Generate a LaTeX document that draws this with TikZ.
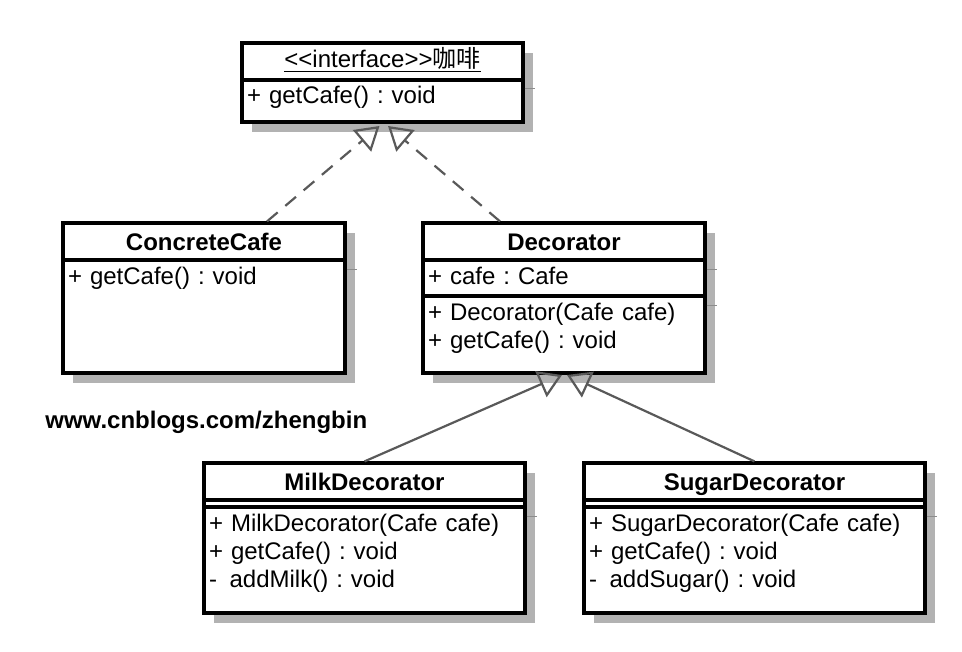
\documentclass[tikz,border=0pt]{standalone}
\usepackage{fontspec}
\setmainfont{Liberation Sans}
\newfontfamily\cjk{Noto Sans CJK SC}
\usepackage{tikz}
\usetikzlibrary{shapes,arrows.meta,shadows}
\usetikzlibrary{positioning}
\newcommand{\umlfont}{\fontsize{12pt}{14pt}\selectfont\frenchspacing}
\tikzstyle{cls} = [rectangle, draw, line width=1.6pt, fill=white, outer sep=0pt, font=\umlfont, drop shadow={shadow xshift=5pt, shadow yshift=-5pt, fill=black!30, opacity=1}]
\tikzstyle{head} = [cls, font=\umlfont\bfseries, inner sep=0pt, minimum height=18.5pt, text height=8.6pt, text depth=0pt]
\tikzstyle{part} = [cls, align=left, inner xsep=2.5pt, inner ysep=2pt, text height=10pt]
\tikzstyle{gap} = [cls, inner sep=0pt, minimum height=3.5pt]
\tikzstyle{gen} = [draw=black!65, line width=1.1pt, -{Triangle[open, length=11.5pt, width=14pt]}]
\tikzstyle{real} = [gen, dash pattern=on 7pt off 5pt]
\tikzstyle{tick} = [draw=black!45, line width=0.5pt]
\newcommand{\vispriv}{\makebox[10.3pt][l]{-}}

\begin{document}
\begin{tikzpicture}[x=0.5pt, y=-0.5pt]
   \useasboundingbox (0,0) rectangle (962,652);
   % Place nodes
   \node [head, font=\umlfont, text depth=3pt, minimum width=140.5pt] (1a) at (382.5,61.5) {\underline{<\kern0pt<interface>\kern0pt>{\cjk 咖啡}}};
   \node [part, below = 0pt of 1a, text width=135.5pt, text depth=7pt] (1b) {+ getCafe() : void};

   \node [head, below left = 50.5pt and -51.5pt of 1b, minimum width=141pt] (2a) {ConcreteCafe};
   \node [part, below = 0pt of 2a, text width=136pt, text depth=42.5pt] (2b) {+ getCafe() : void};

   \node [head, below right = 50.5pt and -50pt of 1b, minimum width=141pt] (3a) {Decorator};
   \node [part, below = 0pt of 3a, text width=136pt, text depth=4pt] (3b) {+ cafe : Cafe};
   \node [part, below = 0pt of 3b, text width=136pt, text depth=24.5pt] (3c) {+ Decorator(Cafe cafe)\\+ getCafe() : void};

   \node [head, below left = 45pt and -51pt of 3c, minimum width=160.5pt] (4a) {MilkDecorator};
   \node [gap, below = 0pt of 4a, minimum width=160.5pt] (4b) {};
   \node [part, below = 0pt of 4b, text width=155.5pt, text depth=39pt] (4c) {+ MilkDecorator(Cafe cafe)\\+ getCafe() : void\\\vispriv addMilk() : void};

   \node [head, below right = 45pt and -60.5pt of 3c, minimum width=170.5pt] (5a) {SugarDecorator};
   \node [gap, below = 0pt of 5a, minimum width=170.5pt] (5b) {};
   \node [part, below = 0pt of 5b, text width=165.5pt, text depth=39pt] (5c) {+ SugarDecorator(Cafe cafe)\\+ getCafe() : void\\\vispriv addSugar() : void};

   \node [anchor=base west, inner sep=0pt, font=\umlfont\bfseries] (url) at (45,428) {www.cnblogs.com/zhengbin};

   % shadow seams
   \foreach \n in {1b,2b,3b,3c,4c,5c}
      \draw [tick] ([xshift=0.8pt, yshift=-4.5pt]\n.north east) -- ++(5pt,0pt);

   % Generalisations
   \draw [real] ([xshift=31.5pt, yshift=0.8pt]2a.north) to ([xshift=-1.5pt, yshift=-2pt]1b.south);
   \draw [real] ([xshift=-32pt, yshift=0.8pt]3a.north) to ([xshift=2.75pt, yshift=-2pt]1b.south);
   \draw [gen] ([yshift=0.8pt]4a.north) to ([xshift=-1pt, yshift=-1pt]3c.south);
   \draw [gen] ([yshift=0.8pt]5a.north) to ([xshift=1.5pt, yshift=-1pt]3c.south);
\end{tikzpicture}
\end{document}
